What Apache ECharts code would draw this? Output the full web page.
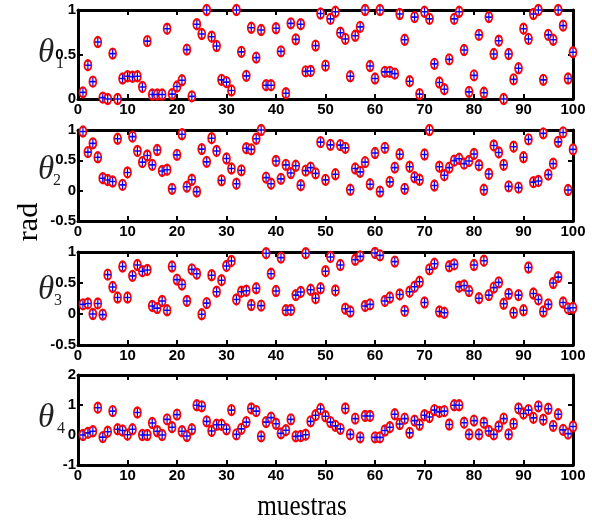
<!DOCTYPE html>
<html>
<head>
<meta charset="utf-8">
<script src="https://cdn.jsdelivr.net/npm/echarts@6/dist/echarts.min.js"></script>
<style>
  html, body { margin: 0; padding: 0; background: #fff; }
  #chart { width: 592px; height: 524px; }
</style>
</head>
<body>
<div id="chart"></div>
<script>
// muestras 1..100
const muestras = Array.from({ length: 100 }, (v, i) => i + 1)

const theta1 = [
  0.075, 0.38, 0.195, 0.64, 0.015, 0, 0.51, 0, 0.23, 0.255,
  0.25, 0.255, 0.135, 0.65, 0.05, 0.05, 0.05, 0.79, 0.055, 0.14,
  0.21, 0.555, 0.03, 0.84, 0.73, 1.0, 0.70, 0.595, 0.215, 0.19,
  0.095, 1.0, 0.53, 0.26, 0.80, 0.465, 0.775, 0.155, 0.155, 0.795,
  0.535, 0.065, 0.85, 0.67, 0.84, 0.31, 0.315, 0.60, 0.96, 0.375,
  0.90, 0.98, 0.745, 0.675, 0.255, 0.71, 0.81, 1.0, 0.37, 0.23,
  1.0, 0.305, 0.305, 0.285, 0.955, 0.665, 0.20, 0.92, 0.055, 0.98,
  0.90, 0.395, 0.185, 0.11, 0.445, 0.90, 0.98, 0.55, 0.08, 0.265,
  0.72, 0.07, 0.92, 0.505, 0.655, 0, 0.505, 0.22, 0.345, 0.79,
  0.675, 0.955, 1.0, 0.215, 0.72, 0.665, 1.0, 0.825, 0.23, 0.525
]
const theta2 = [
  0.975, 0.635, 0.78, 0.55, 0.205, 0.175, 0.15, 0.855, 0.095, 0.30,
  0.89, 0.655, 0.47, 0.58, 0.425, 0.67, 0.325, 0.345, 0.03, 0.59,
  0.93, 0.065, 0.18, -0.015, 0.685, 0.475, 0.865, 0.655, 0.17, 0.53,
  0.365, 0.115, 0.335, 0.70, 0.68, 0.855, 1.0, 0.215, 0.115, 0.49,
  0.195, 0.425, 0.29, 0.41, 0.09, 0.33, 0.38, 0.285, 0.80, 0.178,
  0.755, 0.27, 0.75, 0.705, 0.015, 0.365, 0.31, 0.47, 0.105, 0.62,
  -0.015, 0.705, 0.145, 0.38, 0.60, 0.03, 0.395, 0.22, 0.18, 0.595,
  1.0, 0.085, 0.395, 0.255, 0.38, 0.495, 0.525, 0.445, 0.49, 0.605,
  0.42, 0.015, 0.275, 0.745, 0.63, 0.425, 0.07, 0.725, 0.05, 0.55,
  0.845, 0.14, 0.16, 0.945, 0.265, 0.445, 0.805, 0.96, 0.01, 0.68
]
const theta3 = [
  0.155, 0.17, 0, 0.17, -0.01, 0.635, 0.435, 0.265, 0.765, 0.265,
  0.615, 0.79, 0.69, 0.71, 0.13, 0.095, 0.21, 0.06, 0.765, 0.555,
  0.475, 0.21, 0.72, 0.65, -0.005, 0.175, 0.625, 0.36, 0.545, 0.775,
  0.855, 0.235, 0.36, 0.375, 0.145, 0.415, 0.135, 0.98, 0.65, 0.37,
  0.91, 0.06, 0.065, 0.305, 0.355, 0.98, 0.39, 0.255, 0.415, 0.69,
  0.92, 0.38, 0.79, 0.085, 0.04, 0.875, 0.93, 0.13, 0.155, 0.985,
  0.945, 0.21, 0.265, 0.845, 0.315, 0.05, 0.36, 0.44, 0.52, 0.185,
  0.72, 0.81, 0.04, 0.02, 0.77, 0.80, 0.44, 0.46, 0.37, 0.79,
  0.255, 0.86, 0.305, 0.425, 0.51, 0.165, 0.325, 0.02, 0.305, 0.06,
  0.75, 0.33, 0.235, 0.04, 0.155, 0.50, 0.595, 0.185, 0.09, 0.10
]
const theta4 = [
  0.0, 0.07, 0.125, 0.91, -0.07, 0.11, 0.795, 0.19, 0.15, 0.01,
  0.19, 0.75, 0.0, 0.0, 0.40, 0.125, 0.0, 0.52, 0.26, 0.68,
  0.125, -0.035, 0.19, 0.99, 0.955, 0.455, 0.135, 0.34, 0.34, 0.19,
  0.83, 0.02, 0.205, 0.43, 0.885, 0.795, -0.045, 0.43, 0.58, 0.375,
  0.055, 0.16, 0.52, -0.045, -0.035, 0.01, 0.455, 0.66, 0.865, 0.625,
  0.43, 0.305, 0.205, 0.885, 0.02, 0.545, -0.08, 0.635, 0.635, -0.08,
  -0.08, 0.15, 0.26, 0.69, 0.365, 0.545, 0.07, 0.48, 0.34, 0.66,
  0.60, 0.83, 0.77, 0.795, 0.35, 0.99, 0.99, 0.41, 0.02, 0.48,
  0.02, 0.41, 0.135, 0.02, 0.285, 0.545, 0.02, 0.375, 0.885, 0.715,
  0.83, 0.57, 0.955, 0.51, 0.875, 0.305, 0.69, 0.17, 0.045, 0.285
]

const thetas = [theta1, theta2, theta3, theta4]
const yMin = [0, -0.5, -0.5, -1]
const yMax = [1, 1, 1, 2]
const yStep = [0.5, 0.5, 0.5, 1]

const gridTop = [10, 130, 252, 375]
const gridHeight = [89, 91, 93, 90]

const labelFont = '"Liberation Sans Narrow", "Arial Narrow", "Liberation Sans", Arial, sans-serif'
const plusPath = 'path://M4,0h2v10h-2zM0,4h10v2h-10z'

let grids = []
let xAxes = []
let yAxes = []
let series = []
let graphics = []

const axisBase = {
  axisLine: { show: true, onZero: false, lineStyle: { color: '#000', width: 3 } },
  axisTick: { show: true, inside: true, length: 5, lineStyle: { color: '#000', width: 2 } },
  splitLine: { show: false }
}

thetas.forEach((vals, k) => {
  grids.push({ left: 78, right: 19, top: gridTop[k], height: gridHeight[k] })
  // bottom / top x axes
  xAxes.push(Object.assign({}, axisBase, {
    type: 'value', gridIndex: k, min: 0, max: 100, interval: 10, position: 'bottom',
    axisLabel: { color: '#000', fontWeight: 'bold', fontSize: 15, fontFamily: labelFont, margin: 3 }
  }))
  xAxes.push(Object.assign({}, axisBase, {
    type: 'value', gridIndex: k, min: 0, max: 100, interval: 10, position: 'top',
    axisLabel: { show: false }
  }))
  // left / right y axes
  yAxes.push(Object.assign({}, axisBase, {
    type: 'value', gridIndex: k, min: yMin[k], max: yMax[k], interval: yStep[k], position: 'left',
    axisLabel: { color: '#000', fontWeight: 'bold', fontSize: 15, fontFamily: labelFont, margin: 2 }
  }))
  yAxes.push(Object.assign({}, axisBase, {
    type: 'value', gridIndex: k, min: yMin[k], max: yMax[k], interval: yStep[k], position: 'right',
    axisLabel: { show: false }
  }))
  const data = muestras.map((m, i) => [m, vals[i]])
  // red circles
  series.push({
    type: 'scatter', xAxisIndex: 2 * k, yAxisIndex: 2 * k, clip: false,
    symbol: 'emptyCircle', symbolSize: [7, 10], data: data,
    itemStyle: { color: '#ff0000', borderColor: '#ff0000', borderWidth: 1, opacity: 1 },
    emphasis: { disabled: true }, animation: false
  })
  // blue plus
  series.push({
    type: 'scatter', xAxisIndex: 2 * k, yAxisIndex: 2 * k, clip: false,
    symbol: plusPath, symbolSize: [6, 8], data: data,
    itemStyle: { color: '#0000ff', opacity: 1 },
    emphasis: { disabled: true }, animation: false
  })
})

// theta labels
const thetaY = [55, 172, 292, 420]
const subX = [56, 53, 54, 57]
thetaY.forEach((ty, k) => {
  graphics.push({
    type: 'text', left: 38, top: ty - 18,
    style: { text: 'θ', font: 'italic 33px "Liberation Serif", serif', fill: '#222' }
  })
  graphics.push({
    type: 'text', left: subX[k], top: ty + 1,
    style: { text: String(k + 1), font: '16px "Liberation Serif", serif', fill: '#222' }
  })
})

graphics.push({
  type: 'text', x: 29, y: 222, rotation: Math.PI / 2,
  style: { text: 'rad', font: '30px "Liberation Serif", serif', fill: '#000', align: 'center', verticalAlign: 'middle' }
})
graphics.push({
  type: 'text', x: 302, y: 507, scaleX: 0.84,
  style: { text: 'muestras', font: '30px "Liberation Serif", serif', fill: '#000', align: 'center', verticalAlign: 'middle' }
})

const myChart = echarts.init(document.getElementById('chart'))
myChart.setOption({
  backgroundColor: '#fff',
  animation: false,
  grid: grids,
  xAxis: xAxes,
  yAxis: yAxes,
  series: series,
  graphic: graphics
})
</script>
</body>
</html>
